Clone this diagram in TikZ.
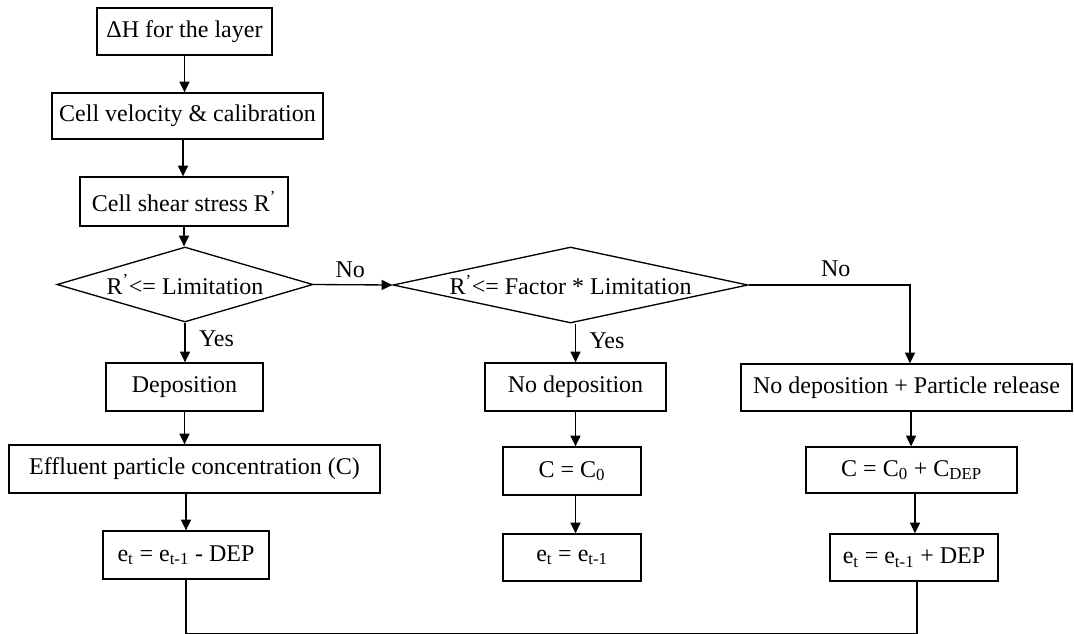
\documentclass[tikz,border=0pt]{standalone}
\usepackage{fontspec}
\setmainfont{Liberation Serif}
\usepackage{tikz}
\usetikzlibrary{shapes.geometric,arrows.meta}
\tikzset{
  box/.style={rectangle,draw=black,line width=1pt,inner sep=0pt,
    align=center,font=\fontsize{18}{21}\selectfont},
  dec/.style={diamond,draw=black,line width=1pt,inner sep=0pt,
    align=center,font=\fontsize{18}{21}\selectfont},
  sz/.style 2 args={minimum width=#1*0.75pt,minimum height=#2*0.75pt},
  fl/.style={-{Triangle[length=8pt,width=7.5pt]},draw=black,line width=1pt},
  ln/.style={draw=black,line width=1pt},
  lbl/.style={font=\fontsize{18}{21}\selectfont,inner sep=0pt},
}

\begin{document}
\begin{tikzpicture}[x=0.75pt,y=-0.75pt]
  \useasboundingbox (0,0) rectangle (1074,633);
  % main column
  \node[box,sz={175}{47}] (dh) at (184.5,31.5) {ΔH for the layer};
  \node[box,sz={271}{46}] (vel) at (187.5,116) {Cell velocity \& calibration};
  \node[box,sz={208}{49}] (shear) at (184,201.5) {Cell shear stress R\textsuperscript{’}};
  \node[dec,sz={256}{75},aspect=3.4] (lim) at (185,284.5) {R\textsuperscript{’}<= Limitation};
  \node[box,sz={157}{48}] (dep) at (184.5,387) {Deposition};
  \node[box,sz={371}{48}] (eff) at (194.5,469) {Effluent particle concentration (C)};
  \node[box,sz={166}{48}] (e1) at (186,555) {e\textsubscript{t} = e\textsubscript{t-1} - DEP};
  % middle column
  \node[dec,sz={355}{76},aspect=4.7] (fac) at (570.5,285) {R\textsuperscript{’}<= Factor * Limitation};
  \node[box,sz={181}{48}] (nodep) at (575.5,387) {No deposition};
  \node[box,sz={138}{48}] (c0) at (572,471) {C = C\textsubscript{0}};
  \node[box,sz={138}{47}] (e2) at (572,557.5) {e\textsubscript{t} = e\textsubscript{t-1}};
  % right column
  \node[box,sz={331}{47}] (rel) at (906.5,387.5) {No deposition + Particle release};
  \node[box,sz={211}{46}] (c0dep) at (911.5,470) {C = C\textsubscript{0} + C\textsubscript{DEP}};
  \node[box,sz={168}{47}] (e3) at (914,557.5) {e\textsubscript{t} = e\textsubscript{t-1} + DEP};
  \coordinate (bot) at (186,633.3);

  \draw[fl] (dh.south) -- (dh.south |- vel.north);
  \draw[fl] ([xshift=-0.75pt]shear.north |- vel.south) -- ([xshift=-0.75pt]shear.north);
  \draw[fl] (shear.south) -- (shear.south |- lim.north);
  \draw[fl] (lim.south) -- (lim.south |- dep.north) node[lbl,pos=0.4,right=10pt] {Yes};
  \draw[fl] (dep.south) -- (dep.south |- eff.north);
  \draw[fl] (e1.north |- eff.south) -- (e1.north);
  \draw[fl] (lim.east) -- (fac.west) node[lbl,midway,above=5pt,xshift=-2pt] {No};
  \draw[fl] (nodep.north |- fac.south) -- (nodep.north) node[lbl,pos=0.45,right=10pt] {Yes};
  \draw[fl] (nodep.south) -- (nodep.south |- c0.north);
  \draw[fl] (nodep.south |- c0.south) -- (nodep.south |- e2.north);
  \draw[fl] (fac.east) -| ([xshift=2.6pt]rel.north) node[lbl,pos=0.27,above=6pt] {No};
  \draw[fl] ([xshift=3.4pt]rel.south) -- ([xshift=3.4pt]rel.south |- c0dep.north);
  \draw[fl] ([xshift=2.6pt]c0dep.south) -- ([xshift=2.6pt]c0dep.south |- e3.north);
  \draw[ln] (e1.south) -- (e1.south |- bot) -- ([xshift=2.2pt]e3.south |- bot) -- ([xshift=2.2pt]e3.south);
\end{tikzpicture}
\end{document}
